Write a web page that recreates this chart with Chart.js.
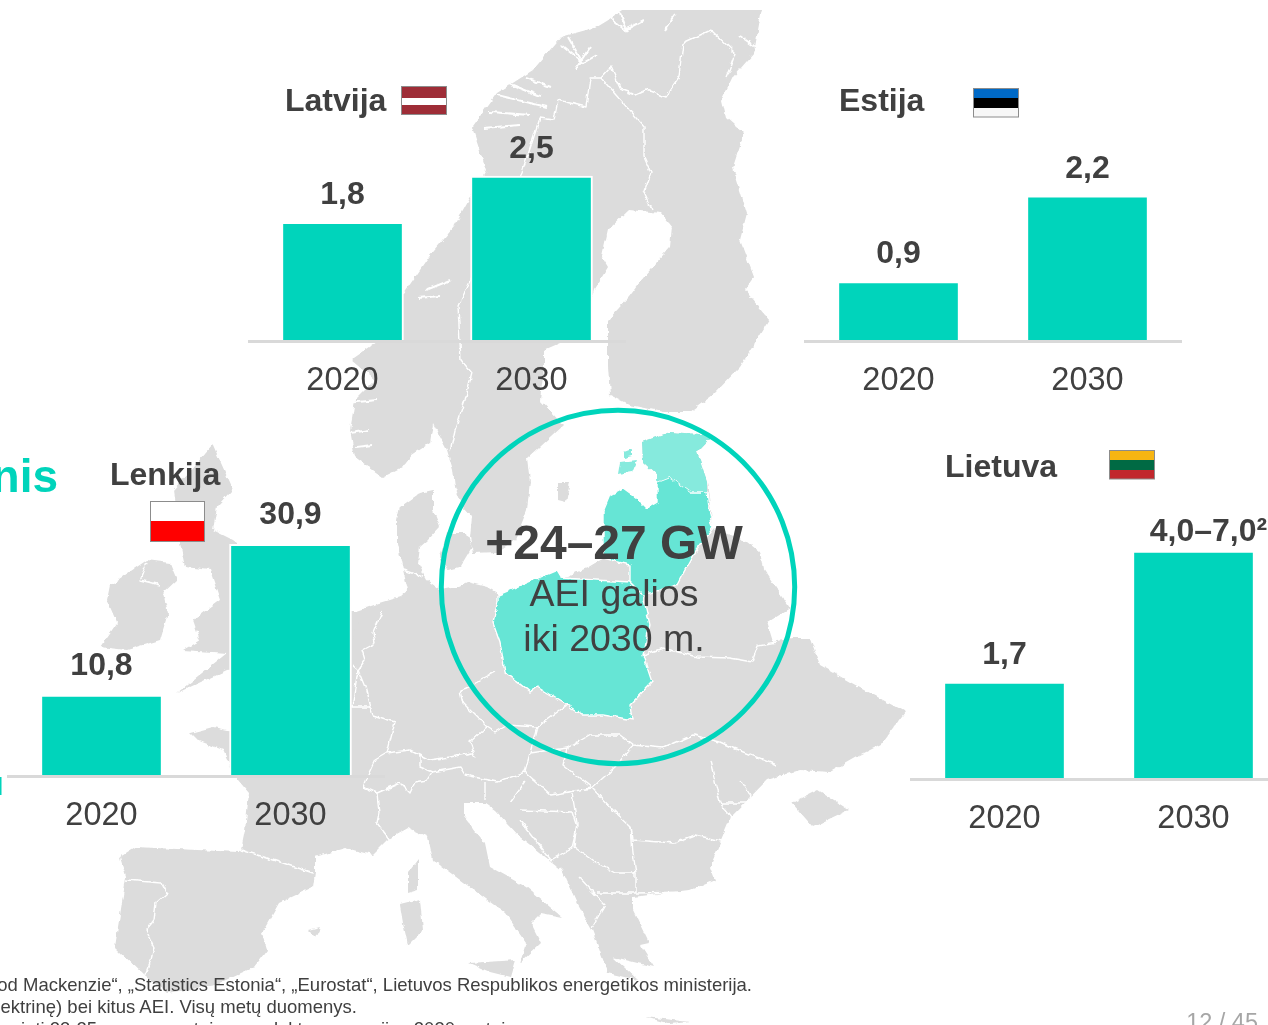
<!DOCTYPE html>
<html lang="lt">
<head>
    <meta charset="UTF-8">
    <title>AEI galios Baltijos šalyse ir Lenkijoje</title>
    <script src="https://cdnjs.cloudflare.com/ajax/libs/Chart.js/4.4.0/chart.umd.min.js"></script>
    <style>
        html, body {
            margin: 0;
            padding: 0;
            width: 1268px;
            height: 1025px;
            overflow: hidden;
            background: #fff;
            font-family: "Liberation Sans", Arial, sans-serif;
        }
        svg.layer {
            position: absolute;
            left: 0;
            top: 0;
            width: 1268px;
            height: 1025px;
        }
        #map { z-index: 0; }
        #overlay { z-index: 2; pointer-events: none; }
        canvas {
            position: absolute;
            z-index: 1;
        }
        .land { fill: #dcdcdc; }
        .border { fill: none; stroke: #fff; stroke-width: 1.4; stroke-linejoin: round; }
        .fjord { fill: none; stroke: #fff; stroke-width: 2; }
        .title { font-size: 32px; font-weight: bold; fill: #404040; }
        .note { font-size: 18.5px; fill: #404040; }
        .flag { stroke: #8c8c8c; stroke-width: 1; fill: none; }
    </style>
</head>
<body>
    <!-- background map -->
    <svg id="map" class="layer" viewBox="0 0 1268 1025">
        <defs>
            <clipPath id="mapClip"><rect x="0" y="10" width="1268" height="1015"/></clipPath>
            <filter id="rough" filterUnits="userSpaceOnUse" x="0" y="0" width="1268" height="1100">
                <feTurbulence type="fractalNoise" baseFrequency="0.14" numOctaves="2" seed="4"/>
                <feDisplacementMap in="SourceGraphic" scale="5" xChannelSelector="R" yChannelSelector="G"/>
            </filter>
        </defs>
        <g clip-path="url(#mapClip)">
        <g filter="url(#rough)">
            <!-- Norway, Sweden, Finland -->
            <polygon class="land" points="633,5 764,5 761,13 754,53 733,77 722,100 726,117 744,133 733,167 747,213 740,240 754,277 745,290 769,320 740,367 713,395 690,412 663,412 630,405 610,395 608,367 608,320 629,297 644,277 670,247 672,227 661,213 629,210 608,230 602,257 608,267 594,290 583,333 544,350 544,367 540,400 563,425 527,458 530,482 527,510 515,540 497,552 473,553 470,537 472,517 463,507 455,487 453,470 447,450 438,433 433,423 430,443 412,455 403,467 383,477 373,470 355,457 350,430 355,400 375,380 351,360 380,340 404,293 429,257 454,227 469,200 486,170 472,127 497,93 533,70 561,37 597,27"/>
            <!-- continental Europe -->
            <polygon class="land" points="350,613 340,640 300,690 280,715 250,735 227,730 213,727 190,733 197,740 223,750 232,770 238,780 249,793 245,830 241,850 238,852 136,847 120,857 126,877 115,947 146,977 167,993 215,985 254,967 267,950 262,933 279,903 313,887 315,873 315,857 346,848 372,855 387,840 408,828 428,837 433,860 505,913 526,943 520,963 541,943 531,923 541,913 562,917 526,887 490,867 485,843 464,817 464,803 485,803 495,810 520,837 562,870 577,903 592,930 608,973 638,980 613,957 654,967 640,945 649,943 633,910 633,897 690,890 715,880 710,867 731,817 767,780 800,770 830,772 860,755 880,745 905,712 850,682 820,665 810,638 793,638 773,642 767,622 790,608 763,568 760,552 747,542 713,528 707,482 697,452 713,435 670,432 642,442 643,462 657,475 657,502 647,508 637,498 623,488 610,495 603,512 603,528 603,558 587,568 562,578 557,570 498,595 497,593 487,587 467,582 457,587 440,590 427,580 418,563 420,547 428,540 440,527 433,510 433,490 420,493 400,507 397,520 397,543 403,570 408,590 400,597 380,603"/>
            <!-- Great Britain and Ireland -->
            <polygon class="land" points="213,445 233,490 217,507 213,530 233,540 300,590 349,610 360,613 353,640 300,665 227,670 177,693 227,653 183,650 200,640 193,620 220,600 210,570 185,567 180,543 173,490"/>
            <polygon class="land" points="128,573 147,560 170,563 177,580 163,593 168,613 160,640 127,650 100,647 117,623 107,600 110,585"/>
            <!-- islands -->
            <polygon class="land" points="447,533 467,533 472,547 460,567 447,570 440,557"/>
            <polygon class="land" points="408,873 418,860 418,890 408,893"/>
            <polygon class="land" points="400,905 420,900 423,930 408,945 403,923"/>
            <polygon class="land" points="469,963 515,960 510,977 490,972"/>
            <polygon class="land" points="646,1017 690,1022 670,1024"/>
            <polygon class="land" points="308,930 320,927 315,937"/>
            <polygon class="land" points="792,803 818,790 849,810 813,827"/>
            <polygon class="land" points="558,482 570,482 566,502 558,500"/>
            <!-- highlighted countries -->
            <polygon points="498,595 557,570 562,578 630,582 643,595 650,625 643,655 652,682 630,705 632,720 603,715 583,715 567,705 537,687 530,692 505,672 500,642 493,622 498,602" fill="#66e5d5" stroke="#fff" stroke-width="1.4"/>
            <polygon points="610,495 623,488 637,498 647,508 657,502 657,482 670,477 690,492 707,492 710,515 713,528 693,555 677,585 643,595 630,582 630,565 603,558 603,528 603,512" fill="#66e5d5" stroke="#fff" stroke-width="1.4"/>
            <polygon points="642,442 670,432 713,435 697,452 707,482 707,492 690,492 670,477 657,482 657,475 643,462" fill="#86eadd"/>
            <polygon points="620,462 637,460 632,472 618,474" fill="#86eadd"/>
            <polygon points="624,452 632,449 632,456 624,458" fill="#86eadd"/>
            <!-- country borders -->
            <polyline class="border" points="711,30 683,43 679,77 665,97 647,90 636,95 622,90 611,67 601,78 590,78 586,107 558,100 554,120 540,118 522,173 469,283 458,307 461,360 472,373 465,400 455,430 450,452"/>
            <polyline class="border" points="711,30 735,53 729,70 726,77"/>
            <polyline class="border" points="601,78 644,127 644,157 651,173 644,193 652,210"/>
            <polyline class="border" points="382,612 373,633 375,643 362,650 365,660 358,670 365,687 370,707 373,715 395,722 387,753 410,750 420,755 430,760 450,757 472,753 475,757 470,742 483,730 487,727 463,703 460,690 470,687 480,680 495,672"/>
            <polyline class="border" points="403,570 423,577"/>
            <polyline class="border" points="487,727 495,732 507,725 537,727 567,705"/>
            <polyline class="border" points="420,755 420,767 432,772 460,767 465,775 497,782 525,772 530,753 537,727"/>
            <polyline class="border" points="387,753 375,760 368,775 363,787 377,793 400,783 410,793 415,782 427,780 432,772"/>
            <polyline class="border" points="352,665 358,670 352,707 363,707 370,707"/>
            <polyline class="border" points="377,793 379,813 377,823 390,840"/>
            <polyline class="border" points="485,782 485,800"/>
            <polyline class="border" points="525,782 510,803"/>
            <polyline class="border" points="525,772 551,795 592,788 613,810 631,827 633,840 674,843 695,835 726,842"/>
            <polyline class="border" points="530,753 567,748 590,735 620,735 633,745 663,748 693,735 720,742 733,748 777,765"/>
            <polyline class="border" points="567,748 563,765 592,788"/>
            <polyline class="border" points="633,745 615,767 592,788"/>
            <polyline class="border" points="710,760 720,803 731,817"/>
            <polyline class="border" points="741,780 750,795 746,803 720,803"/>
            <polyline class="border" points="572,793 577,823 574,847 592,860 615,873 636,873 633,853 631,827"/>
            <polyline class="border" points="520,810 572,812 577,827 572,848 551,860 520,820"/>
            <polyline class="border" points="597,893 636,893 690,892"/>
            <polyline class="border" points="579,877 605,905 592,927"/>
            <polyline class="border" points="636,873 636,893"/>
            <polyline class="border" points="643,655 663,648 697,657 730,658 752,662 758,645 777,642"/>
            <polyline class="border" points="241,850 280,862 313,873"/>
            <polyline class="border" points="126,880 162,883 167,893 156,903 154,920 146,930 154,947 151,960 144,977"/>
            <polyline class="border" points="147,562 140,580 160,585"/>
            <polyline class="border" points="603,558 562,578"/>
            <!-- fjords on the Norwegian coast -->
            <polyline class="fjord" points="561,45 583,63 597,55"/>
            <polyline class="fjord" points="568,37 583,63"/>
            <polyline class="fjord" points="575,70 590,47"/>
            <polyline class="fjord" points="608,16 625,30 644,20"/>
            <polyline class="fjord" points="620,13 628,32"/>
            <polyline class="fjord" points="665,30 676,14"/>
            <polyline class="fjord" points="740,36 757,48"/>
            <polyline class="fjord" points="526,78 551,87"/>
            <polyline class="fjord" points="510,84 540,96"/>
            <polyline class="fjord" points="497,95 547,107"/>
            <polyline class="fjord" points="490,112 530,115"/>
            <polyline class="fjord" points="484,128 520,125"/>
            <polyline class="fjord" points="426,290 451,280"/>
            <polyline class="fjord" points="419,298 440,296"/>
            <polyline class="fjord" points="347,403 377,400"/>
            <polyline class="fjord" points="350,433 370,430"/>
            <polyline class="fjord" points="356,447 372,445"/>
        </g>
        </g>
    </svg>

    <canvas id="latvijaChart" width="378" height="322" style="left:248px;top:79px"></canvas>
    <canvas id="estijaChart" width="378" height="322" style="left:804px;top:79px"></canvas>
    <canvas id="lenkijaChart" width="378" height="360" style="left:7px;top:476px"></canvas>
    <canvas id="lietuvaChart" width="378" height="342" style="left:910px;top:497px"></canvas>

    <svg id="overlay" class="layer" viewBox="0 0 1268 1025">
        <circle cx="618" cy="587" r="176.7" fill="none" stroke="#00d4bb" stroke-width="5"/>
        <text x="614" y="559" text-anchor="middle" font-size="48" font-weight="bold" fill="#404040">+24–27 GW</text>
        <text x="614" y="606" text-anchor="middle" font-size="37.5" fill="#404040">AEI galios</text>
        <text x="614" y="651" text-anchor="middle" font-size="37.5" fill="#404040">iki 2030 m.</text>

        <text class="title" x="285" y="111">Latvija</text>
        <rect x="401.5" y="86.5" width="45" height="28" fill="#9e2d37"/>
        <rect x="402" y="98" width="44" height="7" fill="#fff"/>
        <rect class="flag" x="401.5" y="86.5" width="45" height="28"/>

        <text class="title" x="839" y="111">Estija</text>
        <rect x="973.5" y="88.5" width="45" height="9.5" fill="#0069c6"/>
        <rect x="973.5" y="98" width="45" height="10" fill="#000"/>
        <rect x="973.5" y="108" width="45" height="9" fill="#f7f7f7"/>
        <rect class="flag" x="973.5" y="88.5" width="45" height="28.5"/>

        <text class="title" x="945" y="477">Lietuva</text>
        <rect x="1109.5" y="450.5" width="45" height="9.5" fill="#f7b512"/>
        <rect x="1109.5" y="460" width="45" height="10" fill="#006a44"/>
        <rect x="1109.5" y="470" width="45" height="9" fill="#c1272d"/>
        <rect class="flag" x="1109.5" y="450.5" width="45" height="28.5"/>

        <text class="title" x="110" y="485">Lenkija</text>
        <rect x="150.5" y="501.5" width="54" height="20" fill="#fff"/>
        <rect x="150.5" y="521" width="54" height="20.5" fill="#ff0000"/>
        <rect class="flag" x="150.5" y="501.5" width="54" height="40"/>

        <text x="58" y="492" text-anchor="end" font-size="46" font-weight="bold" fill="#00d4bb">nis</text>
        <rect x="0" y="777" width="1.5" height="18" fill="#00d4bb"/>

        <text class="note" x="752" y="991" text-anchor="end">Wood Mackenzie“, „Statistics Estonia“, „Eurostat“, Lietuvos Respublikos energetikos ministerija.</text>
        <text class="note" x="357" y="1013" text-anchor="end">ektrinę) bei kitus AEI. Visų metų duomenys.</text>
        <text class="note" x="21" y="1035">ieti 23-25 proc. suvartojamos elektros energijos 2030 metais</text>
        <text x="1258" y="1030" text-anchor="end" font-size="23.5" fill="#a6a6a6">12 / 45</text>
    </svg>

    <script>
        // Values (GW)
        const categories = ['2020', '2030'];

        const latvijaValues = [1.8, 2.5];
        const latvijaLabels = ['1,8', '2,5'];

        const estijaValues = [0.9, 2.2];
        const estijaLabels = ['0,9', '2,2'];

        const lenkijaValues = [10.8, 30.9];
        const lenkijaLabels = ['10,8', '30,9'];

        const lietuvaValues = [1.7, 4.0];
        const lietuvaLabels = ['1,7', '4,0–7,0²'];

        const barColor = '#00d4bb';
        const textColor = '#404040';
        const axisColor = '#d9d9d9';
        const axisBandHeight = 60;

        Chart.defaults.font.family = '"Liberation Sans", Arial, sans-serif';

        // Draws the value above each bar
        const valueLabels = {
            id: 'valueLabels',
            afterDatasetsDraw(chart, args, opts) {
                const ctx = chart.ctx;
                const bars = chart.getDatasetMeta(0).data;
                ctx.save();
                ctx.font = 'bold 32px "Liberation Sans", Arial, sans-serif';
                ctx.fillStyle = textColor;
                ctx.textAlign = 'center';
                ctx.textBaseline = 'middle';
                bars.forEach((bar, i) => {
                    const shift = opts.shift[i] || [0, 0];
                    ctx.fillText(opts.texts[i], bar.x + shift[0], bar.y - opts.gap + shift[1]);
                });
                ctx.restore();
            }
        };

        function createChart(canvasId, values, texts, yMax, gap, shift) {
            return new Chart(document.getElementById(canvasId), {
                type: 'bar',
                data: {
                    labels: categories,
                    datasets: [{
                        data: values,
                        backgroundColor: barColor,
                        borderColor: '#ffffff',
                        borderWidth: 2,
                        barThickness: 122
                    }]
                },
                plugins: [valueLabels],
                options: {
                    responsive: false,
                    animation: false,
                    layout: { padding: 0 },
                    plugins: {
                        legend: { display: false },
                        tooltip: { enabled: false },
                        valueLabels: { texts: texts, gap: gap, shift: shift }
                    },
                    scales: {
                        x: {
                            afterFit(scale) { scale.height = axisBandHeight; },
                            grid: { display: false },
                            border: { color: axisColor, width: 3, z: 1 },
                            ticks: {
                                color: textColor,
                                font: { size: 32.5 },
                                padding: 13,
                                maxRotation: 0
                            }
                        },
                        y: { display: false, min: 0, max: yMax }
                    }
                }
            });
        }

        createChart('latvijaChart', latvijaValues, latvijaLabels, 3.97, 27, []);
        createChart('estijaChart', estijaValues, estijaLabels, 3.97, 27, []);
        createChart('lenkijaChart', lenkijaValues, lenkijaLabels, 40, 29, []);
        createChart('lietuvaChart', lietuvaValues, lietuvaLabels, 4.95, 27, [[0, 0], [15, 8]]);
    </script>
</body>
</html>
